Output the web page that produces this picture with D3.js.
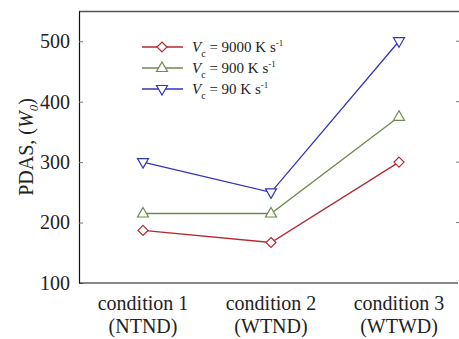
<!DOCTYPE html>
<html>
<head>
<meta charset="utf-8">
<script src="https://cdn.jsdelivr.net/npm/d3@7"></script>
<style>
  html, body { margin: 0; padding: 0; background: #fff; }
  svg { display: block; }
  svg text { font-family: "Liberation Serif", "Times New Roman", serif; }
</style>
</head>
<body>
<svg id="chart" width="459" height="339"></svg>
<script>
// Conditions along the x axis (two-line labels)
const categories = ["condition 1", "condition 2", "condition 3"];
const categorySub = ["(NTND)", "(WTND)", "(WTWD)"];

// PDAS values for each cooling rate
const v9000 = [187, 167, 300];
const v900 = [215, 215, 375];
const v90 = [300, 250, 500];

const yTicks = [100, 200, 300, 400, 500];

const seriesNames = ["9000", "900", "90"];
const seriesColors = ["#b42a2e", "#72884e", "#3434b8"];
const seriesSymbols = ["diamond", "up", "down"];

const svg = d3.select("#chart");
const margin = { left: 79, top: 11, right: 463, bottom: 283 };

const x = d3.scalePoint().domain(categories).range([margin.left, margin.right]).padding(0.5);
const y = d3.scaleLinear().domain([100, 550]).range([margin.bottom, margin.top]);

// Frame: top border and right-side inner ticks
svg.append("line").attr("x1", margin.left).attr("x2", 459)
  .attr("y1", margin.top + 0.5).attr("y2", margin.top + 0.5)
  .attr("stroke", "#555").attr("stroke-width", 1.6);
svg.append("g").selectAll("line").data(yTicks.slice(1)).join("line")
  .attr("x1", 456).attr("x2", 459)
  .attr("y1", d => y(d)).attr("y2", d => y(d))
  .attr("stroke", "#777").attr("stroke-width", 1);

// Left axis with inward ticks
const yAxis = svg.append("g").attr("transform", `translate(${margin.left},0)`)
  .call(d3.axisLeft(y).tickValues(yTicks).tickSizeInner(-4).tickSizeOuter(0).tickPadding(9));
yAxis.select(".domain").attr("stroke", "#111").attr("stroke-width", 1.2);
yAxis.selectAll(".tick line").attr("stroke", "#777");
yAxis.selectAll(".tick text").attr("font-size", 20).attr("fill", "#222")
  .attr("font-family", "Liberation Serif, serif");

// Bottom axis line
svg.append("line").attr("x1", margin.left).attr("x2", 458)
  .attr("y1", margin.bottom).attr("y2", margin.bottom)
  .attr("stroke", "#111").attr("stroke-width", 1.2);

// Category labels
const catG = svg.append("g").attr("font-size", 20).attr("fill", "#222").attr("text-anchor", "middle")
  .attr("font-family", "Liberation Serif, serif");
catG.selectAll("text.c1").data(categories).join("text").attr("class", "c1")
  .attr("x", d => x(d)).attr("y", 310).text(d => d);
catG.selectAll("text.c2").data(categorySub).join("text").attr("class", "c2")
  .attr("x", (d, i) => x(categories[i])).attr("y", 333).text(d => d);

// Y axis title
const yTitle = svg.append("text")
  .attr("transform", `translate(33,147) rotate(-90)`)
  .attr("text-anchor", "middle").attr("font-size", 20).attr("fill", "#222");
yTitle.append("tspan").text("PDAS, (");
yTitle.append("tspan").attr("font-style", "italic").text("W");
yTitle.append("tspan").attr("font-style", "italic").attr("font-size", 13).attr("dy", 5).text("0");
yTitle.append("tspan").attr("dy", -5).text(")");

// Marker drawing
function marker(g, type, cx, cy, color) {
  let p;
  if (type === "diamond") {
    p = `M${cx},${cy - 5}L${cx + 5},${cy}L${cx},${cy + 5}L${cx - 5},${cy}Z`;
  } else if (type === "up") {
    p = `M${cx},${cy - 6}L${cx + 5.5},${cy + 3.5}L${cx - 5.5},${cy + 3.5}Z`;
  } else {
    p = `M${cx},${cy + 6}L${cx + 5.5},${cy - 3.5}L${cx - 5.5},${cy - 3.5}Z`;
  }
  g.append("path").attr("d", p).attr("fill", "#fff").attr("stroke", color).attr("stroke-width", 1.2);
}

const allSeries = [v9000, v900, v90];
const line = d3.line().x((d, i) => x(categories[i])).y(d => y(d));

allSeries.forEach((vals, s) => {
  const g = svg.append("g");
  g.append("path").datum(vals).attr("d", line)
    .attr("fill", "none").attr("stroke", seriesColors[s]).attr("stroke-width", 1.3);
  vals.forEach((v, i) => marker(g, seriesSymbols[s], x(categories[i]), y(v), seriesColors[s]));
});

// Legend
const legend = svg.append("g");
seriesNames.forEach((name, s) => {
  const ly = 47 + s * 21;
  legend.append("line").attr("x1", 142).attr("x2", 183).attr("y1", ly).attr("y2", ly)
    .attr("stroke", seriesColors[s]).attr("stroke-width", 1.3);
  marker(legend, seriesSymbols[s], 162, ly, seriesColors[s]);
  const t = legend.append("text").attr("x", 192).attr("y", ly + 5)
    .attr("font-size", 15).attr("fill", "#222");
  t.append("tspan").attr("font-style", "italic").text("V");
  t.append("tspan").attr("font-size", 10).attr("dy", 5).text("c");
  t.append("tspan").attr("dy", -5).text(` = ${name} K s`);
  t.append("tspan").attr("font-size", 9).attr("dy", -6).text("-1");
});
</script>
</body>
</html>
